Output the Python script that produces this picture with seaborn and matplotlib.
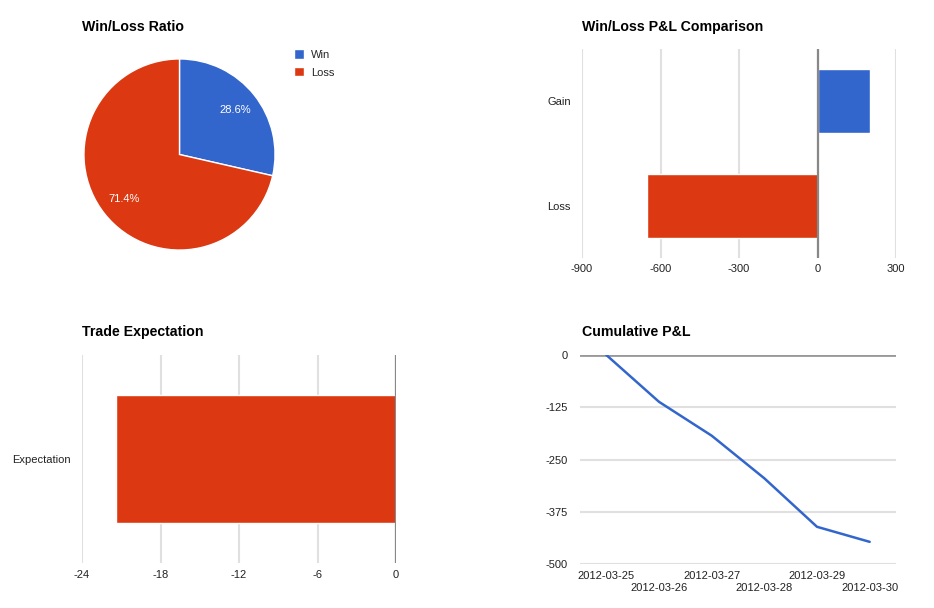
"""Trading dashboard: win/loss ratio, P&L comparison, expectation, cumulative P&L."""
import numpy as np
import pandas as pd
import matplotlib
matplotlib.use("Agg")
import matplotlib.pyplot as plt
import seaborn as sns

# data
ratio_labels = ["Win", "Loss"]
ratio_counts = [2, 5]

pl_labels = ["Gain", "Loss"]
pl_values = [200, -652]

exp_labels = ["Expectation"]
exp_values = [-21.4]

cum_dates = ["2012-03-25", "2012-03-26", "2012-03-27",
             "2012-03-28", "2012-03-29", "2012-03-30"]
cum_pnl = [0, -112, -193, -295, -411, -447]

BLUE = "#3366CC"
RED = "#DC3912"
GRID = "#e0e0e0"
TXT = "#222222"

sns.set_theme(style="white")
plt.rcParams["font.family"] = ["Liberation Sans", "DejaVu Sans"]
plt.rcParams["axes.unicode_minus"] = False

W, H = 934, 608
fig = plt.figure(figsize=(W / 100, H / 100), dpi=100)


def px_axes(left, top, right, bottom):
    return fig.add_axes([left / W, 1 - bottom / H, (right - left) / W, (bottom - top) / H])


def style_axes(ax):
    for s in ax.spines.values():
        s.set_visible(False)
    ax.tick_params(length=0, labelsize=8, colors=TXT)
    ax.set_xlabel("")
    ax.set_ylabel("")


def title(x, y, text):
    fig.text(x / W, 1 - y / H, text, ha="left", va="center",
             fontsize=10.2, fontweight="bold", color="black")


# --- Win/Loss Ratio pie
ax = px_axes(83, 58, 276, 251)
wedges, _, autotexts = ax.pie(ratio_counts, colors=[BLUE, RED], startangle=90,
                              counterclock=False, autopct="%.1f%%", pctdistance=0.74,
                              wedgeprops=dict(edgecolor="white", linewidth=1),
                              textprops=dict(color="white", fontsize=8))
ax.set_xlim(-1.01, 1.01)
ax.set_ylim(-1.01, 1.01)
ax.set_aspect("equal")
fig.legend(wedges, ratio_labels, loc="upper left", bbox_to_anchor=(290 / W, 1 - 45 / H),
           frameon=False, fontsize=8, handlelength=0.9, handleheight=0.9,
           handletextpad=0.6, labelspacing=0.65, borderaxespad=0)
title(82, 27, "Win/Loss Ratio")

# --- Win/Loss P&L comparison
ax = px_axes(582, 49, 896, 258)
pl_df = pd.DataFrame({"label": pl_labels, "value": pl_values})
sns.barplot(data=pl_df, x="value", y="label", hue="label", palette=[BLUE, RED],
            orient="h", width=0.61, saturation=1, legend=False, ax=ax, zorder=3)
ax.set_xlim(-900, 300)
ax.set_xticks([-900, -600, -300, 0, 300])
ax.set_ylim(1.5, -0.5)
ax.grid(axis="x", color=GRID, lw=1.5, zorder=0)
ax.axvline(0, color="#888888", lw=1.6, zorder=4)
style_axes(ax)
ax.tick_params(axis="x", pad=4.5)
ax.tick_params(axis="y", pad=8)
title(582, 27, "Win/Loss P&L Comparison")

# --- Trade expectation
ax = px_axes(82, 355, 396, 563)
exp_df = pd.DataFrame({"label": exp_labels, "value": exp_values})
sns.barplot(data=exp_df, x="value", y="label", color=RED, orient="h",
            width=0.62, saturation=1, ax=ax, zorder=3)
ax.set_xlim(-24, 0)
ax.set_xticks([-24, -18, -12, -6, 0])
ax.set_ylim(0.5, -0.5)
ax.grid(axis="x", color=GRID, lw=1.5, zorder=0)
ax.axvline(0, color="#888888", lw=1.6, zorder=4)
style_axes(ax)
ax.tick_params(axis="x", pad=5)
ax.tick_params(axis="y", pad=8)
title(82, 332, "Trade Expectation")

# --- Cumulative P&L
ax = px_axes(580, 355, 896, 564)
cum_df = pd.DataFrame({"date": pd.to_datetime(cum_dates), "pnl": cum_pnl})
sns.lineplot(data=cum_df, x="date", y="pnl", color=BLUE, lw=1.8, ax=ax, zorder=3)
half = pd.Timedelta(hours=12)
ax.set_xlim(cum_df["date"].min() - half, cum_df["date"].max() + half)
ax.set_xticks(cum_df["date"])
ax.set_xticklabels([d if i % 2 == 0 else "\n" + d for i, d in enumerate(cum_dates)])
ax.set_ylim(-500, 0)
ax.set_yticks([0, -125, -250, -375, -500])
ax.grid(axis="y", color=GRID, lw=1.5, zorder=0)
ax.axhline(0, color="#999999", lw=2, zorder=2)
style_axes(ax)
ax.tick_params(axis="x", pad=5)
ax.tick_params(axis="y", pad=9)
title(582, 332, "Cumulative P&L")

fig.savefig("out.png", dpi=100, facecolor="white")
